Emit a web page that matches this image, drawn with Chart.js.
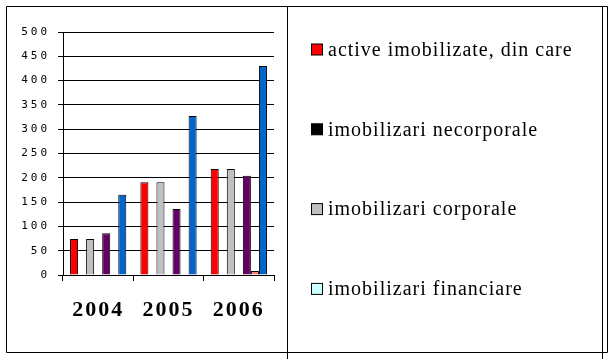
<!DOCTYPE html>
<html>
<head>
<meta charset="utf-8">
<script src="https://cdn.jsdelivr.net/npm/chart.js@4/dist/chart.umd.min.js"></script>
<style>
html,body{margin:0;padding:0;background:#fff;}
#wrap{position:relative;width:616px;height:359px;}
</style>
</head>
<body>
<div id="wrap"><canvas id="c" width="616" height="359"></canvas></div>
<script>
const categories = ['2004', '2005', '2006'];
const yTicks = [0, 50, 100, 150, 200, 250, 300, 350, 400, 450, 500];

const seriesNames = [
  'active imobilizate, din care',
  'imobilizari necorporale',
  'imobilizari corporale',
  'imobilizari financiare',
  'serie 5',
  'serie 6',
  'serie 7'
];
const activeImobilizate = [74, 191, 218];
const imobilizariNecorporale = [0, 0, 0];
const imobilizariCorporale = [74, 191, 218];
const imobilizariFinanciare = [0, 0, 0];
const serie5 = [86, 136, 204];
const serie6 = [0, 0, 8];
const serie7 = [165, 327, 430];

const seriesColors = ['#FF0000', '#000000', '#C0C0C0', '#CCFFFF', '#660066', '#FF8080', '#0066CC'];
const legendCount = 4;

const values = [activeImobilizate, imobilizariNecorporale, imobilizariCorporale, imobilizariFinanciare, serie5, serie6, serie7];

const datasets = values.map((v, i) => ({
  label: seriesNames[i],
  data: v,
  backgroundColor: seriesColors[i],
  borderColor: '#000000',
  borderWidth: 1,
  borderSkipped: 'bottom',
  barPercentage: 1.0,
  categoryPercentage: 0.8
}));

const framePlugin = {
  id: 'frame',
  afterLayout(chart) {
    const ctx = chart.ctx;
    const wrap = (scale, sp) => {
      if (scale._wrapped) return;
      const orig = scale.drawLabels.bind(scale);
      scale.drawLabels = (area) => {
        ctx.save();
        ctx.letterSpacing = sp;
        orig(area);
        ctx.restore();
      };
      scale._wrapped = true;
    };
    wrap(chart.scales.x, '2px');
    wrap(chart.scales.y, '3px');
  },
  afterDraw(chart) {
    const ctx = chart.ctx;
    ctx.save();
    ctx.strokeStyle = '#000';
    ctx.lineWidth = 1;
    ctx.beginPath();
    ctx.rect(6.5, 6.5, 601, 346);
    ctx.moveTo(287.5, 6); ctx.lineTo(287.5, 359);
    ctx.moveTo(602.5, 6); ctx.lineTo(602.5, 359);
    ctx.stroke();
    // legend
    const rows = [49.5, 129.3, 209.1, 288.9];
    ctx.font = '20px "Liberation Serif", serif';
    ctx.letterSpacing = '1px';
    ctx.textBaseline = 'middle';
    ctx.textAlign = 'left';
    for (let i = 0; i < legendCount; i++) {
      const ds = chart.data.datasets[i];
      const y = rows[i];
      ctx.fillStyle = ds.backgroundColor;
      ctx.fillRect(311.5, y - 5.5, 11, 11);
      ctx.strokeStyle = '#000';
      ctx.strokeRect(311.5, y - 5.5, 11, 11);
      ctx.fillStyle = '#000';
      ctx.fillText(ds.label, 328, y + 1);
    }
    ctx.restore();
  }
};

new Chart(document.getElementById('c'), {
  type: 'bar',
  data: { labels: categories, datasets },
  plugins: [framePlugin],
  options: {
    responsive: false,
    animation: false,
    events: [],
    layout: { padding: { left: 0, right: 342, top: 32, bottom: 0 } },
    plugins: { legend: { display: false }, tooltip: { enabled: false } },
    scales: {
      x: {
        afterFit(s) { s.height = 84; },
        grid: { display: true, offset: true, drawOnChartArea: false, color: '#000', tickLength: 6, lineWidth: 1 },
        border: { display: true, color: '#000', width: 1 },
        ticks: {
          color: '#000',
          padding: 16,
          font: { family: '"Liberation Serif", serif', size: 22, weight: 'bold' }
        }
      },
      y: {
        min: 0, max: 500,
        afterFit(s) { s.width = 63; },
        afterBuildTicks(s) { s.ticks = yTicks.map(v => ({ value: v })); },
        grid: { display: true, color: '#000', tickLength: 5, lineWidth: 1 },
        border: { display: true, color: '#000', width: 1 },
        ticks: {
          color: '#000',
          padding: 8,
          font: { family: '"DejaVu Sans Mono", monospace', size: 11 }
        }
      }
    }
  }
});
</script>
</body>
</html>
